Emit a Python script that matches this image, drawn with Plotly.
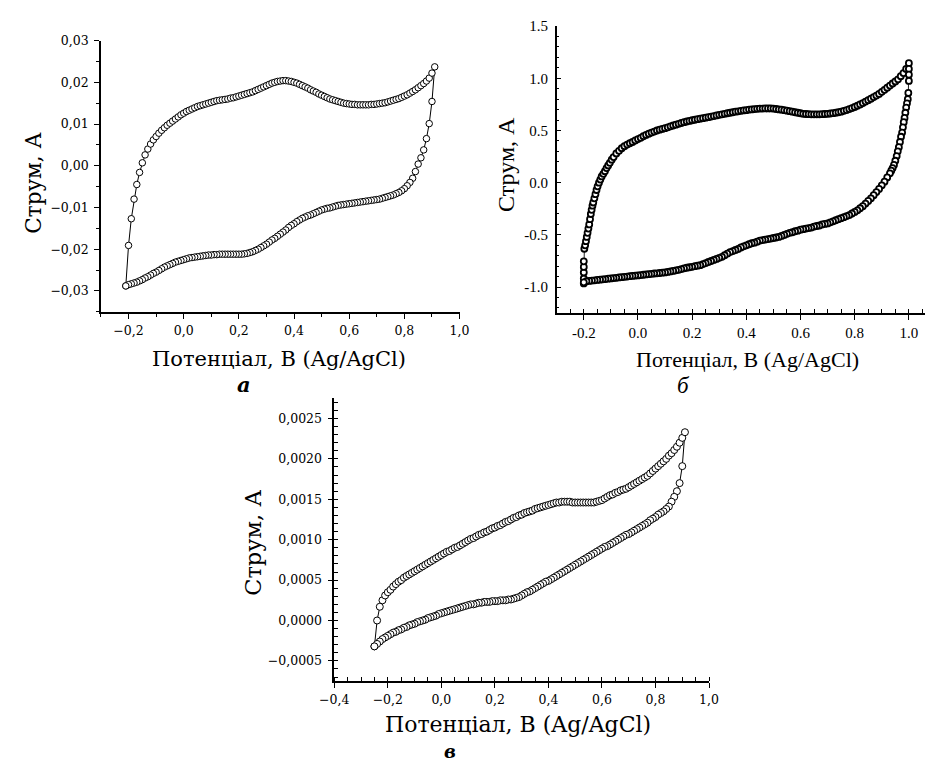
import plotly.graph_objects as go

W, H = 940, 763

# ---------------- Panel a ----------------
A_E = [-0.21, -0.20, -0.19, -0.18, -0.17, -0.16, -0.15, -0.14, -0.13, -0.12,
       -0.11, -0.10, -0.09, -0.08, -0.07, -0.06, -0.05, -0.04, -0.03, -0.02,
       -0.01, 0.00, 0.01, 0.02, 0.03, 0.04, 0.05, 0.06, 0.07, 0.08,
       0.09, 0.10, 0.11, 0.12, 0.13, 0.14, 0.15, 0.16, 0.17, 0.18,
       0.19, 0.20, 0.21, 0.22, 0.23, 0.24, 0.25, 0.26, 0.27, 0.28,
       0.29, 0.30, 0.31, 0.32, 0.33, 0.34, 0.35, 0.36, 0.37, 0.38,
       0.39, 0.40, 0.41, 0.42, 0.43, 0.44, 0.45, 0.46, 0.47, 0.48,
       0.49, 0.50, 0.51, 0.52, 0.53, 0.54, 0.55, 0.56, 0.57, 0.58,
       0.59, 0.60, 0.61, 0.62, 0.63, 0.64, 0.65, 0.66, 0.67, 0.68,
       0.69, 0.70, 0.71, 0.72, 0.73, 0.74, 0.75, 0.76, 0.77, 0.78,
       0.79, 0.80, 0.81, 0.82, 0.83, 0.84, 0.85, 0.86, 0.87, 0.88,
       0.89, 0.90, 0.91]
A_FWD = [-0.0288, -0.0191, -0.0127, -0.0080, -0.0045, -0.0016, 0.0007, 0.0026, 0.0040, 0.0052,
         0.0062, 0.0070, 0.0078, 0.0085, 0.0091, 0.0097, 0.0102, 0.0107, 0.0112, 0.0117,
         0.0122, 0.0126, 0.0130, 0.0133, 0.0136, 0.0139, 0.0142, 0.0144, 0.0146, 0.0148,
         0.0150, 0.0152, 0.0154, 0.0156, 0.0157, 0.0158, 0.0159, 0.0160, 0.0162, 0.0163,
         0.0165, 0.0167, 0.0169, 0.0171, 0.0173, 0.0175, 0.0177, 0.0180, 0.0183, 0.0186,
         0.0189, 0.0192, 0.0195, 0.0198, 0.0200, 0.0202, 0.0203, 0.0204, 0.0204, 0.0203,
         0.0202, 0.0200, 0.0198, 0.0195, 0.0192, 0.0189, 0.0186, 0.0182, 0.0179, 0.0176,
         0.0172, 0.0169, 0.0166, 0.0163, 0.0160, 0.0158, 0.0156, 0.0154, 0.0152, 0.0150,
         0.0149, 0.0148, 0.0147, 0.0147, 0.0146, 0.0146, 0.0146, 0.0146, 0.0146, 0.0147,
         0.0147, 0.0148, 0.0149, 0.0150, 0.0151, 0.0153, 0.0155, 0.0157, 0.0159, 0.0161,
         0.0164, 0.0167, 0.0170, 0.0174, 0.0178, 0.0182, 0.0187, 0.0192, 0.0197, 0.0203,
         0.0210, 0.0222, 0.0237]
# reverse sweep, listed from 0.91 V down to -0.21 V
A_REV = [0.0237, 0.0154, 0.0101, 0.0065, 0.0038, 0.0019, 0.0004, -0.0014, -0.0030, -0.0040,
         -0.0048, -0.0055, -0.0060, -0.0064, -0.0067, -0.0070, -0.0072, -0.0074, -0.0076, -0.0078,
         -0.0080, -0.0081, -0.0082, -0.0083, -0.0084, -0.0085, -0.0086, -0.0087, -0.0088, -0.0089,
         -0.0090, -0.0091, -0.0092, -0.0093, -0.0094, -0.0095, -0.0097, -0.0099, -0.0101, -0.0102,
         -0.0104, -0.0106, -0.0109, -0.0112, -0.0115, -0.0118, -0.0120, -0.0123, -0.0126, -0.0130,
         -0.0134, -0.0139, -0.0143, -0.0148, -0.0154, -0.0159, -0.0164, -0.0169, -0.0174, -0.0178,
         -0.0183, -0.0188, -0.0192, -0.0196, -0.0200, -0.0203, -0.0206, -0.0208, -0.0210, -0.0211,
         -0.0212, -0.0212, -0.0212, -0.0212, -0.0212, -0.0212, -0.0212, -0.0212, -0.0212, -0.0213,
         -0.0213, -0.0214, -0.0214, -0.0215, -0.0216, -0.0217, -0.0218, -0.0219, -0.0220, -0.0221,
         -0.0223, -0.0225, -0.0227, -0.0229, -0.0231, -0.0234, -0.0237, -0.0240, -0.0243, -0.0247,
         -0.0251, -0.0255, -0.0258, -0.0262, -0.0266, -0.0269, -0.0273, -0.0276, -0.0279, -0.0281,
         -0.0283, -0.0285, -0.0288]

# ---------------- Panel б ----------------
B_FWD_E = [-0.200, -0.200, -0.200, -0.200, -0.200, -0.198, -0.195, -0.192, -0.189, -0.186,
           -0.183, -0.180, -0.177, -0.174, -0.171, -0.168, -0.165, -0.161, -0.157, -0.153,
           -0.149, -0.144, -0.139, -0.134, -0.128, -0.122, -0.116, -0.110, -0.104, -0.097,
           -0.090,
           -0.08, -0.07, -0.06, -0.05, -0.04, -0.03, -0.02, -0.01, 0.00, 0.01,
           0.02, 0.03, 0.04, 0.05, 0.06, 0.07, 0.08, 0.09, 0.10, 0.11,
           0.12, 0.13, 0.14, 0.15, 0.16, 0.17, 0.18, 0.19, 0.20, 0.21,
           0.22, 0.23, 0.24, 0.25, 0.26, 0.27, 0.28, 0.29, 0.30, 0.31,
           0.32, 0.33, 0.34, 0.35, 0.36, 0.37, 0.38, 0.39, 0.40, 0.41,
           0.42, 0.43, 0.44, 0.45, 0.46, 0.47, 0.48, 0.49, 0.50, 0.51,
           0.52, 0.53, 0.54, 0.55, 0.56, 0.57, 0.58, 0.59, 0.60, 0.61,
           0.62, 0.63, 0.64, 0.65, 0.66, 0.67, 0.68, 0.69, 0.70, 0.71,
           0.72, 0.73, 0.74, 0.75, 0.76, 0.77, 0.78, 0.79, 0.80, 0.81,
           0.82, 0.83, 0.84, 0.85, 0.86, 0.87, 0.88, 0.89, 0.90, 0.91,
           0.92, 0.93, 0.94, 0.95, 0.96, 0.97, 0.98, 0.99, 1.00]
B_FWD_I = [-0.965, -0.918, -0.860, -0.807, -0.753, -0.633, -0.600, -0.560, -0.520, -0.480,
           -0.440, -0.400, -0.350, -0.300, -0.260, -0.220, -0.190, -0.150, -0.110, -0.070,
           -0.035, 0.000, 0.030, 0.060, 0.085, 0.110, 0.140, 0.165, 0.190, 0.220,
           0.245,
           0.280, 0.305, 0.330, 0.350, 0.365, 0.378, 0.390, 0.405, 0.418, 0.430,
           0.445, 0.458, 0.470, 0.480, 0.490, 0.500, 0.508, 0.515, 0.522, 0.530,
           0.540, 0.548, 0.556, 0.564, 0.572, 0.580, 0.586, 0.592, 0.598, 0.603,
           0.608, 0.613, 0.618, 0.623, 0.628, 0.633, 0.638, 0.644, 0.650, 0.655,
           0.660, 0.665, 0.670, 0.675, 0.680, 0.684, 0.688, 0.692, 0.695, 0.700,
           0.702, 0.705, 0.708, 0.710, 0.710, 0.711, 0.711, 0.711, 0.710, 0.706,
           0.702, 0.699, 0.695, 0.690, 0.685, 0.680, 0.675, 0.670, 0.665, 0.660,
           0.658, 0.656, 0.655, 0.655, 0.655, 0.655, 0.656, 0.658, 0.660, 0.663,
           0.666, 0.670, 0.675, 0.680, 0.688, 0.696, 0.705, 0.715, 0.725, 0.737,
           0.750, 0.763, 0.777, 0.790, 0.805, 0.820, 0.835, 0.850, 0.870, 0.890,
           0.910, 0.930, 0.950, 0.970, 0.990, 1.020, 1.050, 1.090, 1.145]
B_REV_E = [1.000, 1.000, 1.000, 0.998, 0.996, 0.993, 0.990, 0.987, 0.984, 0.981,
           0.978, 0.975, 0.971, 0.967, 0.963, 0.959, 0.955, 0.950, 0.945, 0.940,
           0.935, 0.930,
           0.92, 0.91, 0.90, 0.89, 0.88, 0.87, 0.86, 0.85, 0.84, 0.83,
           0.82, 0.81, 0.80, 0.79, 0.78, 0.77, 0.76, 0.75, 0.74, 0.73,
           0.72, 0.71, 0.70, 0.69, 0.68, 0.67, 0.66, 0.65, 0.64, 0.63,
           0.62, 0.61, 0.60, 0.59, 0.58, 0.57, 0.56, 0.55, 0.54, 0.53,
           0.52, 0.51, 0.50, 0.49, 0.48, 0.47, 0.46, 0.45, 0.44, 0.43,
           0.42, 0.41, 0.40, 0.39, 0.38, 0.37, 0.36, 0.35, 0.34, 0.33,
           0.32, 0.31, 0.30, 0.29, 0.28, 0.27, 0.26, 0.25, 0.24, 0.23,
           0.22, 0.21, 0.20, 0.19, 0.18, 0.17, 0.16, 0.15, 0.14, 0.13,
           0.12, 0.11, 0.10, 0.09, 0.08, 0.07, 0.06, 0.05, 0.04, 0.03,
           0.02, 0.01, 0.00, -0.01, -0.02, -0.03, -0.04, -0.05, -0.06, -0.07,
           -0.08, -0.09, -0.10, -0.11, -0.12, -0.13, -0.14, -0.15, -0.16, -0.17,
           -0.18, -0.19, -0.20]
B_REV_I = [1.090, 1.035, 0.975, 0.860, 0.800, 0.760, 0.720, 0.670, 0.620, 0.580,
           0.530, 0.480, 0.440, 0.390, 0.340, 0.300, 0.255, 0.210, 0.170, 0.140,
           0.115, 0.090,
           0.050, 0.010, -0.025, -0.060, -0.090, -0.120, -0.150, -0.175, -0.200, -0.225,
           -0.245, -0.265, -0.280, -0.295, -0.310, -0.320, -0.330, -0.340, -0.350, -0.360,
           -0.370, -0.380, -0.390, -0.395, -0.400, -0.410, -0.415, -0.420, -0.430, -0.435,
           -0.440, -0.445, -0.450, -0.460, -0.465, -0.475, -0.480, -0.490, -0.500, -0.510,
           -0.520, -0.525, -0.530, -0.535, -0.540, -0.545, -0.550, -0.555, -0.565, -0.575,
           -0.580, -0.590, -0.600, -0.610, -0.620, -0.635, -0.645, -0.655, -0.665, -0.680,
           -0.695, -0.710, -0.720, -0.730, -0.740, -0.750, -0.760, -0.770, -0.780, -0.790,
           -0.795, -0.800, -0.806, -0.810, -0.815, -0.820, -0.828, -0.835, -0.840, -0.845,
           -0.850, -0.855, -0.860, -0.862, -0.865, -0.868, -0.870, -0.873, -0.876, -0.879,
           -0.882, -0.885, -0.888, -0.890, -0.893, -0.896, -0.899, -0.902, -0.905, -0.908,
           -0.911, -0.914, -0.917, -0.920, -0.923, -0.926, -0.929, -0.932, -0.935, -0.938,
           -0.941, -0.944, -0.955]
B_XTICKS = [-0.2, 0.0, 0.2, 0.4, 0.6, 0.8, 1.0]
B_XTEXT = ["-0.2", "0.0", "0.2", "0.4", "0.6", "0.8", "1.0"]
B_YTICKS = [-1.0, -0.5, 0.0, 0.5, 1.0, 1.5]
B_YTEXT = ["-1.0", "-0.5", "0.0", "0.5", "1.0", "1.5"]

# ---------------- Panel в ----------------
C_E = [-0.25, -0.24, -0.23, -0.22, -0.21, -0.20, -0.19, -0.18, -0.17, -0.16,
       -0.15, -0.14, -0.13, -0.12, -0.11, -0.10, -0.09, -0.08, -0.07, -0.06,
       -0.05, -0.04, -0.03, -0.02, -0.01, 0.00, 0.01, 0.02, 0.03, 0.04,
       0.05, 0.06, 0.07, 0.08, 0.09, 0.10, 0.11, 0.12, 0.13, 0.14,
       0.15, 0.16, 0.17, 0.18, 0.19, 0.20, 0.21, 0.22, 0.23, 0.24,
       0.25, 0.26, 0.27, 0.28, 0.29, 0.30, 0.31, 0.32, 0.33, 0.34,
       0.35, 0.36, 0.37, 0.38, 0.39, 0.40, 0.41, 0.42, 0.43, 0.44,
       0.45, 0.46, 0.47, 0.48, 0.49, 0.50, 0.51, 0.52, 0.53, 0.54,
       0.55, 0.56, 0.57, 0.58, 0.59, 0.60, 0.61, 0.62, 0.63, 0.64,
       0.65, 0.66, 0.67, 0.68, 0.69, 0.70, 0.71, 0.72, 0.73, 0.74,
       0.75, 0.76, 0.77, 0.78, 0.79, 0.80, 0.81, 0.82, 0.83, 0.84,
       0.85, 0.86, 0.87, 0.88, 0.89, 0.90, 0.91]
C_FWD = [-0.00032, 0.00000, 0.00017, 0.00025, 0.00031, 0.00035, 0.00038, 0.00042, 0.00045, 0.00048,
         0.00050, 0.00053, 0.00055, 0.00057, 0.00059, 0.00061, 0.00063, 0.00065, 0.00067, 0.00069,
         0.00071, 0.00073, 0.00075, 0.00077, 0.00079, 0.00081, 0.00083, 0.00085, 0.00086, 0.00088,
         0.00090, 0.00091, 0.00093, 0.00095, 0.00097, 0.00099, 0.00101, 0.00102, 0.00104, 0.00106,
         0.00107, 0.00109, 0.00110, 0.00112, 0.00114, 0.00115, 0.00117, 0.00118, 0.00120, 0.00122,
         0.00123, 0.00125, 0.00127, 0.00128, 0.00130, 0.00131, 0.00133, 0.00134, 0.00135, 0.00136,
         0.00138, 0.00139, 0.00140, 0.00141, 0.00142, 0.00143, 0.00144, 0.00145, 0.00146, 0.00146,
         0.00147, 0.00147, 0.00147, 0.00147, 0.00146, 0.00146, 0.00146, 0.00146, 0.00146, 0.00146,
         0.00146, 0.00146, 0.00146, 0.00147, 0.00148, 0.00149, 0.00151, 0.00153, 0.00155, 0.00156,
         0.00158, 0.00159, 0.00161, 0.00162, 0.00163, 0.00165, 0.00167, 0.00169, 0.00171, 0.00173,
         0.00175, 0.00177, 0.00179, 0.00182, 0.00185, 0.00188, 0.00191, 0.00194, 0.00197, 0.00200,
         0.00204, 0.00207, 0.00211, 0.00215, 0.00220, 0.00226, 0.00233]
# reverse sweep, listed from 0.91 V down to -0.25 V
C_REV = [0.00233, 0.00191, 0.00170, 0.00160, 0.00153, 0.00147, 0.00141, 0.00138, 0.00135, 0.00133,
         0.00131, 0.00128, 0.00126, 0.00124, 0.00121, 0.00119, 0.00117, 0.00115, 0.00113, 0.00111,
         0.00109, 0.00107, 0.00106, 0.00104, 0.00102, 0.00100, 0.00098, 0.00096, 0.00094, 0.00092,
         0.00091, 0.00089, 0.00087, 0.00085, 0.00083, 0.00081, 0.00079, 0.00077, 0.00075, 0.00073,
         0.00071, 0.00069, 0.00067, 0.00065, 0.00063, 0.00061, 0.00059, 0.00057, 0.00055, 0.00053,
         0.00051, 0.00049, 0.00048, 0.00046, 0.00044, 0.00042, 0.00040, 0.00038, 0.00036, 0.00035,
         0.00033, 0.00031, 0.00029, 0.00028, 0.00027, 0.00026, 0.00026, 0.00025, 0.00025, 0.00025,
         0.00024, 0.00024, 0.00024, 0.00023, 0.00023, 0.00023, 0.00022, 0.00022, 0.00021, 0.00020,
         0.00020, 0.00019, 0.00018, 0.00017, 0.00016, 0.00015, 0.00014, 0.00013, 0.00012, 0.00011,
         0.00010, 0.00009, 0.00008, 0.00006, 0.00005, 0.00004, 0.00003, 0.00001, 0.00000, -0.00001,
         -0.00002, -0.00004, -0.00005, -0.00006, -0.00008, -0.00009, -0.00011, -0.00012, -0.00014, -0.00015,
         -0.00017, -0.00019, -0.00021, -0.00023, -0.00026, -0.00029, -0.00032]

X_TITLE = "Потенціал, В (Ag/AgCl)"
Y_TITLE = "Струм, А"
PANEL_LABELS = ["а", "б", "в"]

assert len(A_E) == len(A_FWD) == len(A_REV)
assert len(C_E) == len(C_FWD) == len(C_REV)
assert len(B_FWD_E) == len(B_FWD_I) and len(B_REV_E) == len(B_REV_I)

CS = "DejaVu Serif"
TM = "Liberation Serif"


def px_x(p):
    return p / W


def px_y(p):
    return 1 - p / H


fig = go.Figure()

# a
fig.add_trace(go.Scatter(
    x=A_E + A_E[::-1][1:], y=A_FWD + A_REV[1:],
    xaxis="x", yaxis="y", mode="lines+markers",
    line=dict(color="black", width=1),
    marker=dict(symbol="circle", size=6.5, color="white", line=dict(color="black", width=1)),
    showlegend=False, hoverinfo="skip"))
# б
fig.add_trace(go.Scatter(
    x=B_FWD_E + B_REV_E, y=B_FWD_I + B_REV_I,
    xaxis="x2", yaxis="y2", mode="lines+markers",
    line=dict(color="#222", width=1),
    marker=dict(symbol="circle", size=6, color="white", line=dict(color="black", width=1.8)),
    showlegend=False, hoverinfo="skip"))
# в
fig.add_trace(go.Scatter(
    x=C_E + C_E[::-1][1:], y=C_FWD + C_REV[1:],
    xaxis="x3", yaxis="y3", mode="lines+markers",
    line=dict(color="black", width=1),
    marker=dict(symbol="circle", size=7, color="white", line=dict(color="black", width=1)),
    showlegend=False, hoverinfo="skip"))

common = dict(showline=True, linecolor="black", linewidth=1.5, showgrid=False, zeroline=False,
              tickcolor="black", tickwidth=1, ticklen=5)

fig.update_layout(
    width=W, height=H, margin=dict(l=0, r=0, t=0, b=0),
    paper_bgcolor="white", plot_bgcolor="white",
    separators=", ",
    xaxis=dict(domain=[px_x(88.3), px_x(456.7)], anchor="y", range=[-0.3, 1.0],
               tickmode="linear", tick0=0, dtick=0.2, tickformat=".1f", ticks="outside",
               ticklabelstandoff=1,
               minor=dict(ticks="outside", ticklen=3, tickcolor="black", dtick=0.1, tick0=0),
               tickfont=dict(family=CS, size=12.5, color="black"), **common),
    yaxis=dict(domain=[px_y(307), px_y(32.9)], anchor="x", range=[-0.035, 0.03],
               tickmode="linear", tick0=0, dtick=0.01, tickformat=".2f", ticks="outside",
               ticklabelstandoff=3,
               minor=dict(ticks="outside", ticklen=3, tickcolor="black", dtick=0.005, tick0=0),
               tickfont=dict(family=CS, size=12.5, color="black"), **common),
    xaxis2=dict(domain=[px_x(556.5), px_x(935)], anchor="y2", range=[-0.3, 1.06],
                tickmode="array", tickvals=B_XTICKS, ticktext=B_XTEXT, ticks="outside",
                ticklabelstandoff=0,
                minor=dict(ticks="inside", ticklen=4, tickcolor="black", tickmode="linear",
                           tick0=0, dtick=0.05),
                tickfont=dict(family=TM, size=15, color="black"), **common),
    yaxis2=dict(domain=[px_y(308.4), px_y(18.3)], anchor="x2", range=[-1.25, 1.5],
                tickmode="array", tickvals=B_YTICKS, ticktext=B_YTEXT, ticks="inside",
                ticklabelstandoff=4,
                minor=dict(ticks="inside", ticklen=3, tickcolor="black", tickmode="linear",
                           tick0=0, dtick=0.1),
                tickfont=dict(family=TM, size=15, color="black"), **common),
    xaxis3=dict(domain=[px_x(328), px_x(713)], anchor="y3", range=[-0.4, 1.0],
                tickmode="linear", tick0=0, dtick=0.2, tickformat=".1f", ticks="outside",
                ticklabelstandoff=1,
                minor=dict(ticks="inside", ticklen=4, tickcolor="black", dtick=0.05, tick0=0),
                tickfont=dict(family=CS, size=12.5, color="black"), **common),
    yaxis3=dict(domain=[px_y(680.25), px_y(394.4)], anchor="x3", range=[-0.00075, 0.00275],
                tickmode="linear", tick0=0, dtick=0.0005, tickformat=".4f", ticks="outside",
                ticklabelstandoff=3,
                minor=dict(ticks="inside", ticklen=4, tickcolor="black", dtick=0.0001, tick0=0),
                tickfont=dict(family=CS, size=12.5, color="black"), **common),
)

ann = []


def add_text(text, x, y, family, size, angle=0, italic=False, bold=False):
    t = text
    if italic:
        t = "<i>" + t + "</i>"
    if bold:
        t = "<b>" + t + "</b>"
    ann.append(dict(text=t, x=px_x(x), y=px_y(y), xref="paper", yref="paper",
                    xanchor="center", yanchor="middle", showarrow=False, textangle=angle,
                    font=dict(family=family, size=size, color="black")))


# panel a
add_text(X_TITLE, 271, 355, CS, 21)
add_text(Y_TITLE, 19, 176, CS, 21.5, angle=-90)
add_text(PANEL_LABELS[0], 235, 380, CS, 21, italic=True, bold=True)
# panel б
add_text(X_TITLE, 752, 355, TM, 22)
add_text(Y_TITLE, 505, 158, TM, 24, angle=-90)
add_text(PANEL_LABELS[1], 687, 381, TM, 23, italic=True)
# panel в
add_text(X_TITLE, 517, 724, CS, 22)
add_text(Y_TITLE, 245, 540, CS, 22.5, angle=-90)
add_text(PANEL_LABELS[2], 447, 751, CS, 18, italic=True, bold=True)

fig.update_layout(annotations=ann)
fig.write_html("out.html")
